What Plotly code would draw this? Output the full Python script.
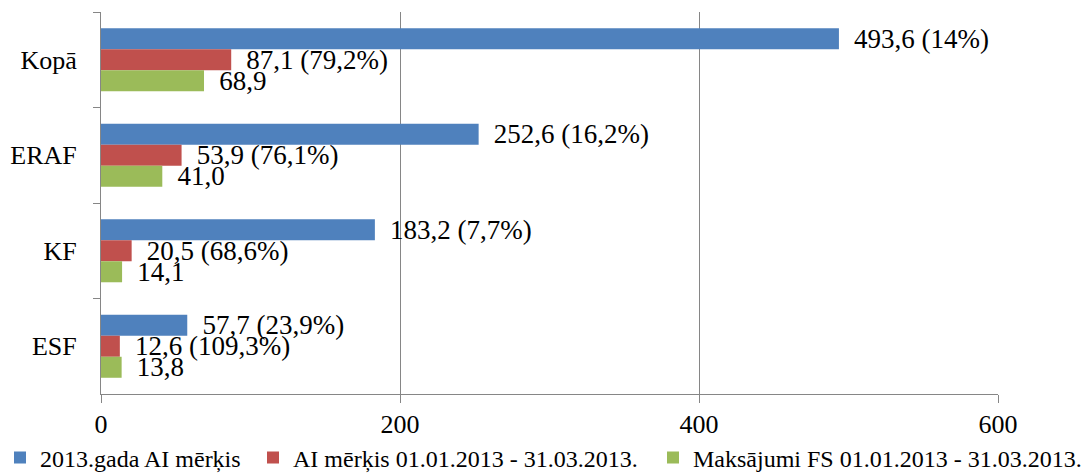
import plotly.graph_objects as go

categories = ["Kopā", "ERAF", "KF", "ESF"]
series_names = [
    "2013.gada AI mērķis",
    "AI mērķis 01.01.2013 - 31.03.2013.",
    "Maksājumi FS 01.01.2013 - 31.03.2013.",
]
target_2013 = [493.6, 252.6, 183.2, 57.7]
target_q1 = [87.1, 53.9, 20.5, 12.6]
payments_q1 = [68.9, 41.0, 14.1, 13.8]
target_2013_labels = ["493,6 (14%)", "252,6 (16,2%)", "183,2 (7,7%)", "57,7 (23,9%)"]
target_q1_labels = ["87,1 (79,2%)", "53,9 (76,1%)", "20,5 (68,6%)", "12,6 (109,3%)"]
payments_q1_labels = ["68,9", "41,0", "14,1", "13,8"]
x_ticks = [0, 200, 400, 600]

colors = ["#4F81BD", "#C0504D", "#9BBB59"]
FONT = "Liberation Serif, Times New Roman, serif"
PAD = "\u00a0\u2009"
W, H = 1086, 474
legend_ids = ["legend", "legend2", "legend3"]
legend_x_px = [0, 253, 653]

fig = go.Figure()
for name, vals, labels, col, lid in zip(
    series_names,
    [target_2013, target_q1, payments_q1],
    [target_2013_labels, target_q1_labels, payments_q1_labels],
    colors, legend_ids,
):
    fig.add_trace(go.Bar(
        name=name, y=categories, x=vals, orientation="h",
        marker=dict(color=col, line=dict(width=0)),
        text=[PAD + t for t in labels], textposition="outside",
        textfont=dict(family=FONT, size=27, color="black"),
        constraintext="none", cliponaxis=False,
        hoverinfo="skip", legend=lid,
    ))

legend_common = dict(
    orientation="h", xref="container", yref="container",
    xanchor="left", y=16 / H, yanchor="middle",
    font=dict(family=FONT, size=24, color="black"),
    itemclick=False, itemdoubleclick=False,
    bgcolor="rgba(0,0,0,0)",
)

fig.update_layout(
    width=W, height=H,
    margin=dict(l=101, r=88, t=12, b=80, autoexpand=False),
    paper_bgcolor="white", plot_bgcolor="white",
    barmode="group", bargap=0.34, bargroupgap=0,
    font=dict(family=FONT, size=26, color="black"),
    showlegend=True,
    legend=dict(x=legend_x_px[0] / W, **legend_common),
    legend2=dict(x=legend_x_px[1] / W, **legend_common),
    legend3=dict(x=legend_x_px[2] / W, **legend_common),
    xaxis=dict(
        range=[0, 600], tickvals=x_ticks, ticktext=[str(v) for v in x_ticks],
        showgrid=True, gridcolor="#868686", gridwidth=1,
        showline=True, linecolor="#868686", linewidth=1,
        ticks="outside", ticklen=8, tickcolor="#868686",
        zeroline=False, fixedrange=True,
        tickfont=dict(family=FONT, size=26), ticklabelstandoff=-1,
    ),
    yaxis=dict(
        categoryorder="array", categoryarray=categories,
        autorange="reversed",
        showline=True, linecolor="#868686", linewidth=1,
        ticks="outside", ticklen=7, tickcolor="#868686",
        tickson="boundaries", showgrid=False, fixedrange=True,
        tickfont=dict(family=FONT, size=26), ticklabelstandoff=18,
    ),
)

fig.write_html(
    "out.html",
    config={"displayModeBar": False},
    post_script="document.body.style.margin='0';",
)
